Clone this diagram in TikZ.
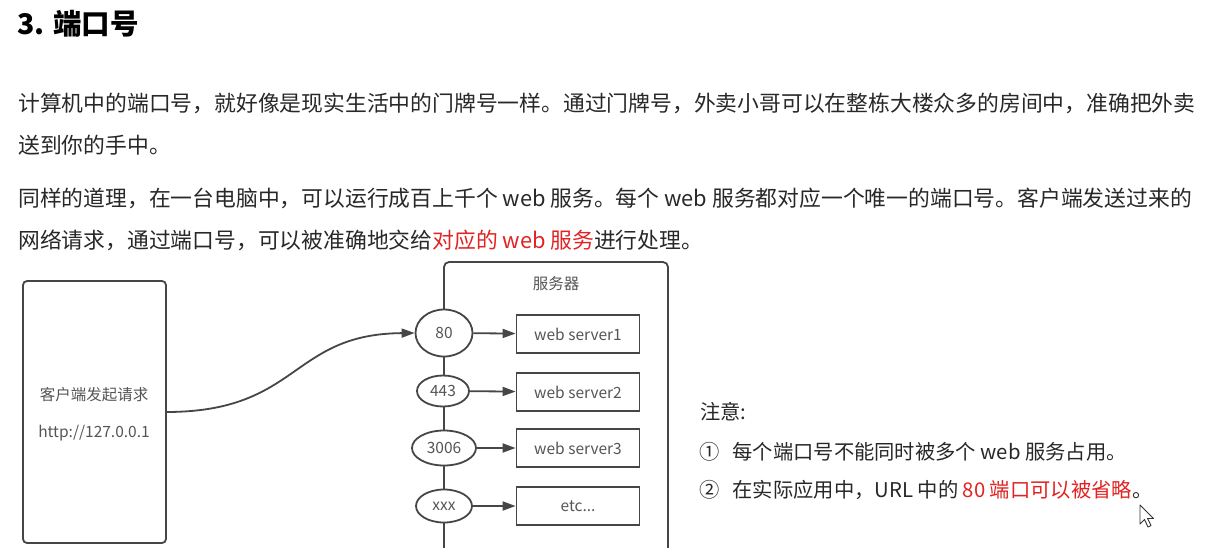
\documentclass[tikz,border=0pt]{standalone}
\usepackage{fontspec}
\setmainfont{Noto Sans CJK SC}
\usetikzlibrary{arrows.meta,shapes.geometric}
\definecolor{txt}{RGB}{40,40,40}
\definecolor{dgray}{RGB}{85,85,85}
\definecolor{lgray}{RGB}{70,70,70}
\definecolor{hred}{RGB}{225,35,35}
\tikzset{
  para/.style={anchor=west,inner sep=0pt,font=\fontsize{21.8}{24}\selectfont,text=txt},
  note/.style={anchor=west,inner sep=0pt,font=\fontsize{20.3}{22}\selectfont,text=txt},
  dlabel/.style={inner sep=0pt,font=\fontsize{15.5}{17}\selectfont,text=dgray},
  port/.style={ellipse,draw=lgray,line width=1.8pt,fill=white,inner sep=0pt,font=\fontsize{15.5}{17}\selectfont,text=dgray},
  srv/.style={rectangle,draw=lgray,line width=1.8pt,fill=white,minimum width=123pt,minimum height=38pt,inner sep=0pt,font=\fontsize{15.5}{17}\selectfont,text=dgray},
  conn/.style={draw=lgray,line width=1.8pt,-{Triangle[length=13pt,width=9pt]}},
}
\begin{document}
\begin{tikzpicture}[x=1pt,y=-1pt]
\useasboundingbox[fill=white] (0,0) rectangle (1222,547);
% title
\node[anchor=west,inner sep=0pt,font=\fontsize{28.5}{30}\selectfont\bfseries,text=black] (title) at (17,24) {3. 端口号};
% paragraphs
\node[para] (p1a) at (18,103) {计算机中的端口号，就好像是现实生活中的门牌号一样。通过门牌号，外卖小哥可以在整栋大楼众多的房间中，准确把外卖};
\node[para] (p1b) at (18,145) {送到你的手中。};
\node[para] (p2a) at (18,198) {同样的道理，在一台电脑中，可以运行成百上千个 web 服务。每个 web 服务都对应一个唯一的端口号。客户端发送过来的};
\node[para] (p2b) at (18,240) {网络请求，通过端口号，可以被准确地交给\textcolor{hred}{对应的 web 服务}进行处理。};
% client box
\draw[draw=lgray,line width=1.8pt,rounded corners=4pt] (23,281) rectangle (166,543);
\node[dlabel] (c1) at (94,395) {客户端发起请求};
\node[dlabel] (c2) at (94,433) {http://127.0.0.1};
\coordinate (cout) at (166,412);
% server box
\draw[draw=lgray,line width=1.8pt,rounded corners=5pt] (444,560) -- (444,262) -- (668,262) -- (668,560);
\node[dlabel] (srvt) at (556,284) {服务器};
% ports
\node[port,minimum width=57pt,minimum height=47pt] (p80) at (444,333) {80};
\node[port,minimum width=52pt,minimum height=31pt] (p443) at (443,391) {443};
\node[port,minimum width=64pt,minimum height=35pt] (p3006) at (444,448) {3006};
\node[port,minimum width=56pt,minimum height=33pt] (pxxx) at (444,506) {xxx};
% servers
\node[srv] (w1) at (578,334) {web server1};
\node[srv] (w2) at (578,392) {web server2};
\node[srv] (w3) at (578,448) {web server3};
\node[srv] (w4) at (578,506) {etc...};
\draw[conn] (p80) -- (w1);
\draw[conn] (p443) -- (w2);
\draw[conn] (p3006) -- (w3);
\draw[conn] (pxxx) -- (w4);
\draw[conn] (cout) .. controls (300,412) and (290,334) .. (p80.west);
% notes
\node[note] (n0) at (700,412) {注意:};
\node[note] (n1) at (699,452) {①\hspace{13pt}每个端口号不能同时被多个 web 服务占用。};
\node[note] (n2) at (699,490) {②\hspace{13pt}在实际应用中，URL 中的 \textcolor{hred}{80 端口可以被省略}。};
% mouse cursor
\draw[black!80,line width=0.9pt,fill=white,line join=round] (1140,505) -- (1140,524) -- (1144.5,519.5) -- (1148,527) -- (1151,525.5) -- (1147.5,518.5) -- (1153.5,518.5) -- cycle;
\end{tikzpicture}
\end{document}
